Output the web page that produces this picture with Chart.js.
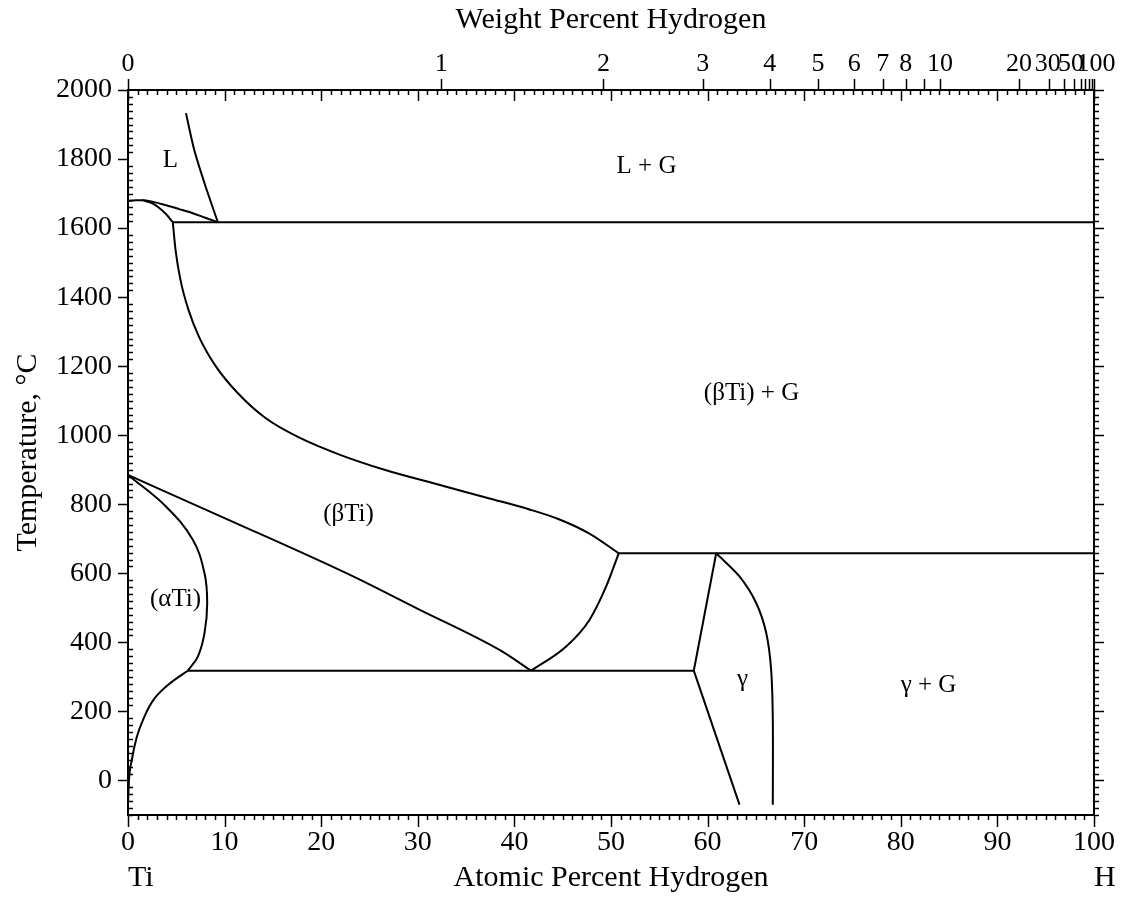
<!DOCTYPE html>
<html>
<head>
<meta charset="utf-8">
<script src="https://cdn.jsdelivr.net/npm/chart.js@4.4.1/dist/chart.umd.min.js"></script>
<style>
  html, body { margin: 0; padding: 0; background: #fff; }
  #wrap { width: 1127px; height: 897px; }
</style>
</head>
<body>
<div id="wrap"><canvas id="c" width="1127" height="897"></canvas></div>
<script>
// ---------- Data (atomic % H, temperature °C) ----------
const atomicTickValues = [0, 10, 20, 30, 40, 50, 60, 70, 80, 90, 100];
const tempTickValues = [0, 200, 400, 600, 800, 1000, 1200, 1400, 1600, 1800, 2000];
const weightLabelValues = [0, 1, 2, 3, 4, 5, 6, 7, 8, 10, 20, 30, 50, 100];
const weightLabels = ['0', '1', '2', '3', '4', '5', '6', '7', '8', '10', '20', '30', '50', '100'];
const weightExtraTicks = [9, 40, 60, 70, 80, 90];
const massH = 1.008, massTi = 47.867;

const liqL_X = [6.0, 6.86, 7.92, 9.30];
const liqL_T = [1933, 1826, 1730, 1617];

const liqTi_X = [0, 0.8, 1.5, 2.6, 3.95, 5.3, 6.71, 8.0, 9.30];
const liqTi_T = [1678, 1681, 1681, 1676, 1666, 1655, 1643, 1630, 1617];

const solidus_X = [1.5, 2.4, 3.08, 3.95, 4.64];
const solidus_T = [1681, 1673, 1662, 1640, 1617];

const monotectic_X = [4.64, 100];
const monotectic_T = [1617, 1617];

const betaSolvus_X = [4.64, 4.92, 5.43, 6.26, 7.40, 9.06, 11.33, 14.23, 17.75, 21.89, 26.55, 31.73, 37.42, 41.56, 44.67, 47.77, 50.80];
const betaSolvus_T = [1617, 1537, 1450, 1363, 1282, 1201, 1123, 1050, 993, 944, 900, 860, 817, 785, 756, 715, 658];

const alphaTransus_X = [0, 3.95, 6.71, 7.92, 8.20, 7.92, 7.23, 6.19];
const alphaTransus_T = [885, 793, 697, 600, 514, 427, 359, 318];

const betaTransus_X = [0, 10, 22.93, 30, 38.46, 41.74];
const betaTransus_T = [885, 760, 596, 497, 378, 318];

const eutectoid_X = [6.19, 58.57];
const eutectoid_T = [318, 318];

const betaGamma_X = [41.74, 45.36, 47.77, 49.50, 50.80];
const betaGamma_T = [318, 388, 465, 562, 658];

const upper_X = [50.80, 100];
const upper_T = [658, 658];

const gammaLeftUp_X = [58.57, 60.89];
const gammaLeftUp_T = [318, 658];

const gammaLeftLow_X = [58.57, 63.30];
const gammaLeftLow_T = [318, -70];

const gammaRight_X = [60.89, 63.30, 65.03, 66.07, 66.58, 66.75, 66.75];
const gammaRight_T = [658, 591, 514, 427, 320, 176, -70];

const alphaLow_X = [0.0, 0.1, 0.4, 0.9, 1.7, 2.6, 4.2, 6.19];
const alphaLow_T = [-70, 0, 60, 125, 185, 232, 278, 318];

const regionText = ['L', 'L + G', '(βTi) + G', '(βTi)', '(αTi)', 'γ', 'γ + G'];
const regionX = [4.40, 53.68, 64.55, 22.83, 4.92, 63.61, 82.87];
const regionT = [1797, 1780, 1120, 772, 523, 292, 274];

// ---------- helpers ----------
function atomicFromWeight(w) {
  if (w >= 100) return 100;
  const nH = w / massH, nTi = (100 - w) / massTi;
  return 100 * nH / (nH + nTi);
}
function pts(xs, ts) { return xs.map((v, i) => ({ x: v, y: ts[i] })); }

// [x, T, tension, monotone]
const curves = [
  [liqL_X, liqL_T, 0.3, false],
  [liqTi_X, liqTi_T, 0, true],
  [solidus_X, solidus_T, 0, true],
  [monotectic_X, monotectic_T, 0, false],
  [betaSolvus_X, betaSolvus_T, 0, true],
  [alphaTransus_X, alphaTransus_T, 0.4, false],
  [betaTransus_X, betaTransus_T, 0, true],
  [eutectoid_X, eutectoid_T, 0, false],
  [betaGamma_X, betaGamma_T, 0, true],
  [upper_X, upper_T, 0, false],
  [gammaLeftUp_X, gammaLeftUp_T, 0, false],
  [gammaLeftLow_X, gammaLeftLow_T, 0, false],
  [gammaRight_X, gammaRight_T, 0.3, false],
  [alphaLow_X, alphaLow_T, 0, true]
];

const FONT = "'Liberation Serif', 'Times New Roman', serif";
const BLACK = '#000';
// small horizontal nudges (px) for crowded top labels, as in the original figure
const topLabelNudge = [0, 0, 0, 0, 0, 0, 0, 0, 0, 0, 0, -1, -3, 2];

const tickPlugin = {
  id: 'frameTicks',
  afterDraw(chart) {
    const { ctx, chartArea: a } = chart;
    const x = chart.scales.x, y = chart.scales.y;
    ctx.save();
    ctx.strokeStyle = BLACK;
    ctx.lineWidth = 1.5;
    const seg = (x1, y1, x2, y2) => { ctx.beginPath(); ctx.moveTo(x1, y1); ctx.lineTo(x2, y2); ctx.stroke(); };
    for (let v = 0; v <= 100; v += 1) {
      const px = Math.round(x.getPixelForValue(v)) + 0.5;
      const major = v % 10 === 0;
      seg(px, a.bottom, px, a.bottom + (major ? 12 : 5));
      seg(px, a.top, px, a.top + (major ? 11 : 5));
    }
    for (let t = -100; t <= 2000; t += 20) {
      const py = Math.round(y.getPixelForValue(t)) + 0.5;
      const major = t % 200 === 0;
      if (major) seg(a.left - 10, py, a.left, py); else seg(a.left, py, a.left + 5, py);
      seg(a.right, py, a.right + (major ? 10 : 5), py);
    }
    weightLabelValues.concat(weightExtraTicks).forEach(w => {
      const px = Math.round(x.getPixelForValue(atomicFromWeight(w))) + 0.5;
      seg(px, a.top - 11, px, a.top);
    });
    // top (weight %) labels
    ctx.fillStyle = BLACK;
    ctx.font = '26px ' + FONT;
    ctx.textAlign = 'center';
    ctx.textBaseline = 'middle';
    weightLabelValues.forEach((w, i) => {
      ctx.fillText(weightLabels[i], x.getPixelForValue(atomicFromWeight(w)) + topLabelNudge[i], a.top - 26);
    });
    ctx.restore();
  }
};

const labelPlugin = {
  id: 'regionLabels',
  afterDatasetsDraw(chart) {
    const { ctx, chartArea: a } = chart;
    const x = chart.scales.x, y = chart.scales.y;
    ctx.save();
    ctx.fillStyle = BLACK;
    ctx.textAlign = 'center';
    ctx.textBaseline = 'middle';
    ctx.font = '25px ' + FONT;
    regionText.forEach((s, i) => {
      ctx.fillText(s, x.getPixelForValue(regionX[i]), y.getPixelForValue(regionT[i]));
    });
    ctx.font = '30px ' + FONT;
    ctx.textAlign = 'left';
    ctx.fillText('Ti', a.left, 878);
    ctx.fillText('H', a.right, 878);
    ctx.restore();
  }
};

const tickFont = { family: FONT, size: 28 };
const titleFont = { family: FONT, size: 30 };
const gridOpts = { display: true, drawOnChartArea: false, drawTicks: false, color: BLACK };
const borderOpts = { display: true, color: BLACK, width: 2 };
const noPadH = s => { s.paddingLeft = 0; s.paddingRight = 0; };
const noPadV = s => { s.paddingTop = 0; s.paddingBottom = 0; };

new Chart(document.getElementById('c'), {
  type: 'scatter',
  data: {
    datasets: curves.map(c => ({
      data: pts(c[0], c[1]),
      showLine: true,
      borderColor: BLACK,
      borderWidth: 2,
      pointRadius: 0,
      pointHoverRadius: 0,
      tension: c[2],
      cubicInterpolationMode: c[3] ? 'monotone' : 'default',
      fill: false
    }))
  },
  options: {
    responsive: false,
    animation: false,
    devicePixelRatio: 1,
    layout: { padding: 0 },
    plugins: { legend: { display: false }, tooltip: { enabled: false } },
    scales: {
      x: {
        type: 'linear', position: 'bottom', min: 0, max: 100,
        afterBuildTicks: s => { s.ticks = atomicTickValues.map(v => ({ value: v })); },
        afterFit: s => { s.height = 82; noPadH(s); },
        ticks: { font: tickFont, color: BLACK, padding: 11, maxRotation: 0, autoSkip: false, callback: v => String(v) },
        grid: gridOpts, border: borderOpts,
        title: { display: true, text: 'Atomic Percent Hydrogen', font: titleFont, color: BLACK, padding: { top: 0, bottom: 1 } }
      },
      xTop: {
        type: 'linear', position: 'top', min: 0, max: 100,
        afterFit: s => { s.height = 90; noPadH(s); },
        ticks: { display: false },
        grid: gridOpts, border: borderOpts,
        title: { display: true, text: 'Weight Percent Hydrogen', font: titleFont, color: BLACK, padding: { top: 2, bottom: 0 } }
      },
      y: {
        type: 'linear', position: 'left', min: -100, max: 2000,
        afterBuildTicks: s => { s.ticks = tempTickValues.map(v => ({ value: v })); },
        afterFit: s => { s.width = 128; noPadV(s); },
        ticks: { font: tickFont, color: BLACK, padding: 16, autoSkip: false, callback: v => String(v) },
        grid: gridOpts, border: borderOpts,
        title: { display: true, text: 'Temperature, °C', font: titleFont, color: BLACK, padding: { top: 10, bottom: 0 } }
      },
      yRight: {
        type: 'linear', position: 'right', min: -100, max: 2000,
        afterFit: s => { s.width = 33; noPadV(s); },
        ticks: { display: false },
        grid: gridOpts, border: borderOpts
      }
    }
  },
  plugins: [labelPlugin, tickPlugin]
});
</script>
</body>
</html>
